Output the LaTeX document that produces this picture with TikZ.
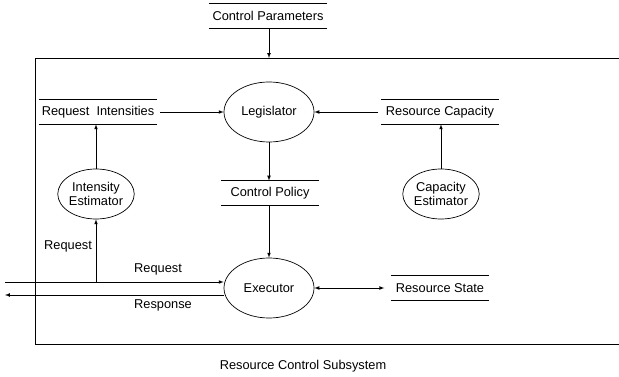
\documentclass[tikz,border=0pt]{standalone}
\usepackage{fontspec}
\setmainfont{Liberation Sans}
\usetikzlibrary{shapes.geometric,arrows,positioning}

\begin{document}
\begin{tikzpicture}[x=1pt,y=-1pt,line width=0.7pt,font=\fontsize{12.8}{14}\selectfont,
  >=latex,
  proc/.style={draw,ellipse,inner sep=0pt,align=center},
  store/.style={inner sep=0pt,minimum height=24pt,anchor=center}]
\useasboundingbox (0,0) rectangle (619,377);

% subsystem boundary
\draw (619,58) -- (35,58) -- (35,344) -- (619,344);
\node (cap) at (303,366) {Resource Control Subsystem};

% data stores
\node[store,minimum width=117pt] (cp) at (268,16) {Control Parameters};
\node[store,minimum width=118pt] (ri) at (98,112) {Request\ \ Intensities};
\node[store,minimum width=117pt] (rc) at (440,112) {Resource Capacity};
\node[store,minimum width=97pt] (pol) at (270,193) {Control Policy};
\node[store,minimum width=97pt] (rs) at (440,288) {Resource State};
\foreach \s in {cp,ri,rc,pol,rs}
  \draw (\s.north west) -- (\s.north east) (\s.south west) -- (\s.south east);

% processes
\node[proc,minimum width=90pt,minimum height=60pt] (leg) at (269,112) {Legislator};
\node[proc,minimum width=90pt,minimum height=60pt] (ex) at (269,288) {Executor};
\node[proc,minimum width=72pt,minimum height=50pt] (ie) at (96,194) {Intensity\\Estimator};
\node[proc,minimum width=70pt,minimum height=50pt] (ce) at (441,194) {Capacity\\Estimator};

% flows
\draw[->] (cp.south -| leg) -- (leg |- 0,58);
\draw[->] (ri.east) ++(3,0) coordinate (ri1) -- (leg.west);
\draw[->] (rc.west) ++(-3,0) coordinate (rc1) -- (leg.east);
\draw[->] (ie.north) -- (ie |- ri.south);
\draw[->] (ce.north) -- (ce |- rc.south);
\draw[->] (leg.south) -- (leg |- pol.north);
\draw[->] (leg |- pol.south) -- (ex.north);
\draw[<->] (ex.east) -- ++(70,0) coordinate (rs1);

% request / response
\coordinate (in) at (5,282);
\coordinate (out) at (5,295);
\draw[->] (in) -- (in -| ex.west);
\draw[->] (out -| ex.west) -- (out);
\draw[->] (ie |- in) -- (ie.south);
\node (lreq) at (158,269) {Request};
\node (lres) at (163,305) {Response};
\node (lbr) at (68,246) {Request};
\end{tikzpicture}
\end{document}
